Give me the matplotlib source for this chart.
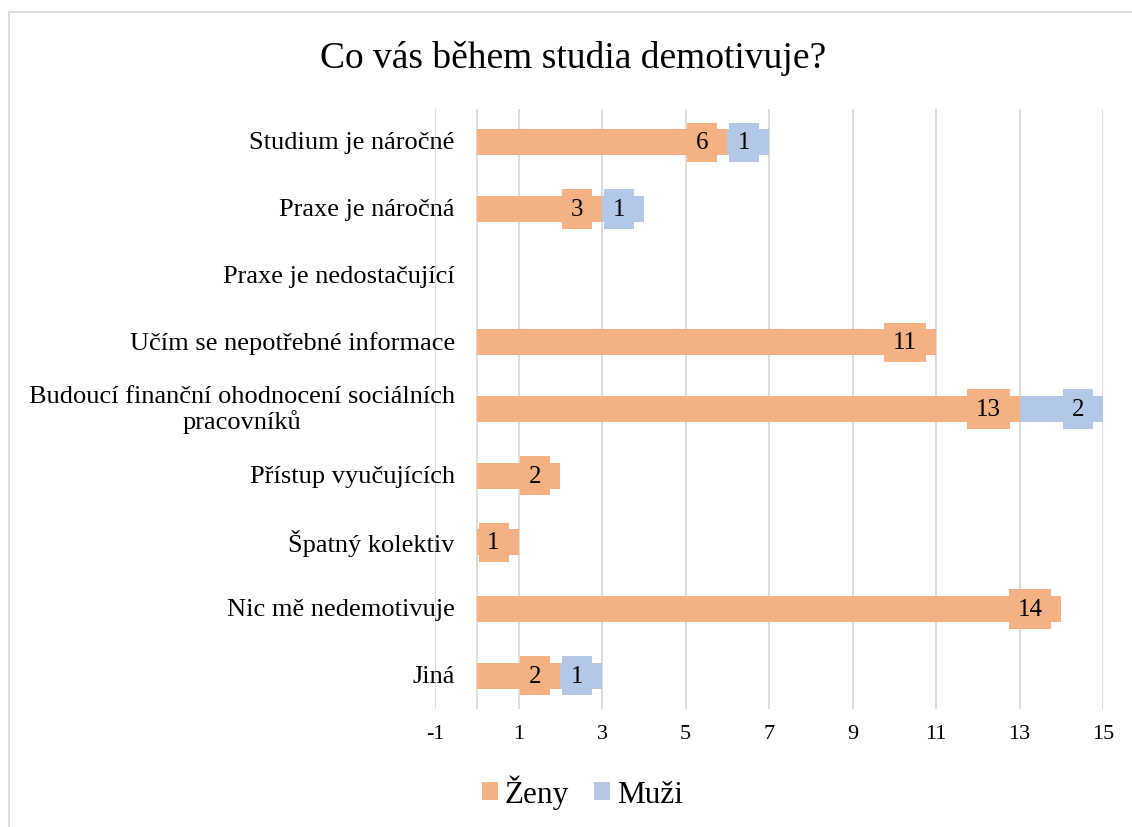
import numpy as np
import matplotlib.pyplot as plt
import matplotlib.patches as patches

plt.rcParams.update({
    'font.family': ['Liberation Serif', 'DejaVu Serif'],
    'axes.unicode_minus': False,
})

# Data
categories = ['Studium je náročné', 'Praxe je náročná', 'Praxe je nedostačující',
              'Učím se nepotřebné informace',
              'Budoucí finanční ohodnocení sociálních\npracovníků',
              'Přístup vyučujících', 'Špatný kolektiv', 'Nic mě nedemotivuje', 'Jiná']
zeny = [6, 3, 0, 11, 13, 2, 1, 14, 2]
muzi = [1, 1, 0, 0, 2, 0, 0, 0, 1]
xticks = [-1, 1, 3, 5, 7, 9, 11, 13, 15]

c_zeny = '#F4B183'
c_muzi = '#B4C7E7'
grid_c = '#D9D9D9'

W, H = 1132, 828
fig = plt.figure(figsize=(W / 100, H / 100), dpi=100)
ax = fig.add_axes([435 / W, 1 - 710 / H, 668 / W, 600 / H])

y = np.arange(len(categories))
b1 = ax.barh(y, zeny, height=0.39, color=c_zeny, label='Ženy', zorder=2)
b2 = ax.barh(y, muzi, left=zeny, height=0.39, color=c_muzi, label='Muži', zorder=2)

ax.set_xlim(-1, 15)
ax.set_ylim(len(categories) - 0.5, -0.5)
ax.set_xticks(xticks)
ax.set_xticklabels([str(t) for t in xticks])
ax.set_yticks([])
ax.tick_params(axis='x', length=0, pad=11, labelsize=16)
for s in ax.spines.values():
    s.set_visible(False)

# vertical gridlines + category axis at 0
for t in xticks:
    ax.axvline(t, color=grid_c, lw=1.3, zorder=0)
ax.axvline(0, color=grid_c, lw=1.3, zorder=1)

# category labels next to the 0 axis
px = 0.72
for i, lab in enumerate(categories):
    ax.annotate(lab, xy=(0, i), xytext=(-22 * px, 0), textcoords='offset points',
                ha='right', va='center', fontsize=19, multialignment='center',
                linespacing=1.1, color='#000000')

# data labels (inside end)
def put_labels(vals, lefts, color):
    for i, (v, l) in enumerate(zip(vals, lefts)):
        if v == 0:
            continue
        w = 30 if v < 10 else 42.5
        ax.annotate(str(v), xy=(l + v, i), xytext=(-(10 + w / 2) * px, 0),
                    textcoords='offset points', ha='center', va='center',
                    fontsize=18, color='#000000', zorder=4,
                    bbox=dict(boxstyle='square,pad=0.35', fc=color, ec='none'))

put_labels(zeny, [0] * len(zeny), c_zeny)
put_labels(muzi, zeny, c_muzi)

fig.text(573.5 / W, 1 - 68 / H, 'Co vás během studia demotivuje?', ha='center',
         va='baseline', fontsize=27)

fig.legend(handles=[b1, b2], loc='center', ncol=2, frameon=False, fontsize=22.5,
           bbox_to_anchor=(582.5 / W, 1 - 793 / H), handlelength=0.51,
           handleheight=0.51, handletextpad=0.22, columnspacing=0.8)

# chart border
fig.patches.append(patches.Rectangle((9 / W, -0.1), 1.2, 1 - 13 / H + 0.1,
                                     transform=fig.transFigure, fill=False,
                                     ec=grid_c, lw=1.3))

fig.savefig('out.png', dpi=100, facecolor='white')
